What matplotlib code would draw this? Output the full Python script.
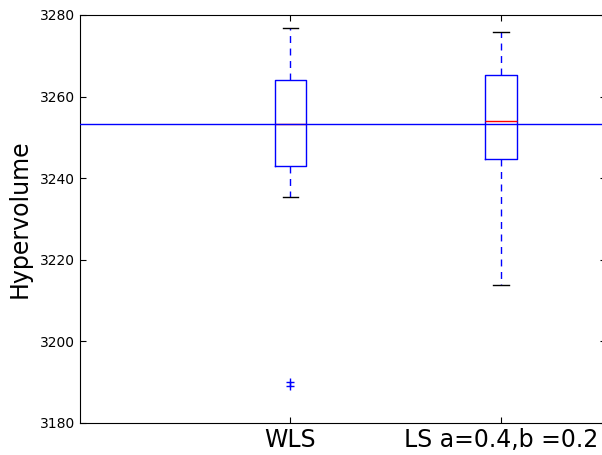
import matplotlib
matplotlib.use("Agg")
import matplotlib.pyplot as plt

labels = ["WLS", "LS a=0.4,b =0.2"]
positions = [2, 3]
whislo = [3235.5, 3213.9]
q1 = [3243.1, 3244.7]
med = [3253.2, 3253.9]
q3 = [3264.1, 3265.2]
whishi = [3276.8, 3275.9]
fliers = [[3190.1, 3189.1], []]
ref_level = 3253.2

stats = []
for i in range(len(labels)):
    stats.append(dict(label=labels[i], whislo=whislo[i], q1=q1[i], med=med[i],
                      q3=q3[i], whishi=whishi[i], fliers=fliers[i]))

W, H = 602, 455
fig = plt.figure(figsize=(W / 100, H / 100), dpi=100)
ax = fig.add_axes([80 / W, (H - 423) / H, 526 / W, 408 / H])

ax.bxp(stats, positions=positions, widths=0.15,
       boxprops=dict(color="b", lw=1),
       whiskerprops=dict(color="b", lw=1, ls="--", dashes=(5, 4)),
       capprops=dict(color="k", lw=1),
       medianprops=dict(color="r", lw=1),
       flierprops=dict(marker="+", markeredgecolor="b", markersize=6, lw=0))
ax.axhline(ref_level, color="b", lw=1, zorder=3)

ax.set_xlim(1, 3.5)
ax.set_ylim(3180, 3280)
ax.set_yticks([3180, 3200, 3220, 3240, 3260, 3280])
ax.set_xticks(positions)
ax.set_xticklabels(labels, fontsize=17)
ax.tick_params(axis="y", labelsize=10)
ax.tick_params(direction="in", top=True, right=True, length=4, width=0.8)
ax.set_ylabel("Hypervolume", fontsize=17, labelpad=6)

fig.savefig("out.png", dpi=100)
